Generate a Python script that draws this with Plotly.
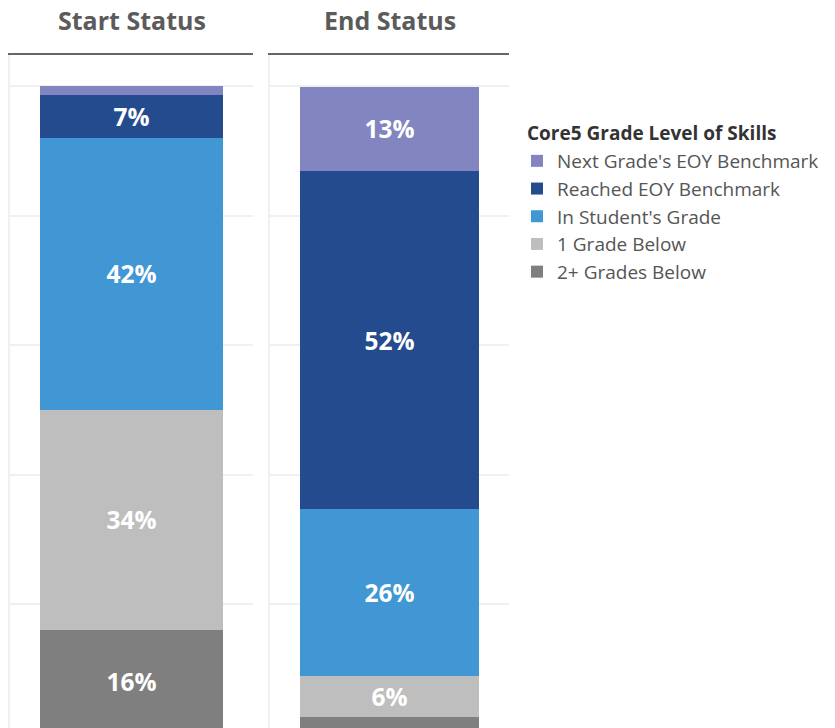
import plotly.graph_objects as go
from plotly.subplots import make_subplots

panels = ["Start Status", "End Status"]
categories = ["2+ Grades Below", "1 Grade Below", "In Student's Grade",
              "Reached EOY Benchmark", "Next Grade's EOY Benchmark"]
start_values = [16, 34, 42, 6.6, 1.4]
end_values = [2.5, 6.4, 25.7, 52.3, 13]
colors = ["#7f7f7f", "#bebebe", "#4196d4", "#234b8e", "#8385c0"]
legend_title = "Core5 Grade Level of Skills"

fig = make_subplots(rows=1, cols=2, horizontal_spacing=0.02)

for col, vals in enumerate([start_values, end_values], start=1):
    for cat, v, c in zip(categories, vals, colors):
        fig.add_trace(go.Bar(
            x=[panels[col - 1]], y=[v], name=cat, marker_color=c,
            marker_line_width=0, width=0.75,
            text=[f"<b>{round(v)}%</b>" if v >= 5 else ""],
            textposition="inside", insidetextanchor="middle", textangle=0,
            textfont=dict(family="Open Sans", size=24.5, color="white"),
            showlegend=(col == 1), hoverinfo="skip",
        ), row=1, col=col)

W, H = 835, 728
T = 55
PH = H - T
doms = [(10 / W, 253 / W), (270 / W, 509 / W)]
for i, (d0, d1) in enumerate(doms, start=1):
    fig.update_xaxes(domain=[d0, d1], showticklabels=False, ticks="",
                     showgrid=False, side="top", showline=True,
                     linecolor="#666666", linewidth=2, row=1, col=i)
    fig.update_yaxes(range=[0.85, 104.8], showticklabels=False, ticks="",
                     dtick=20, tick0=0, showgrid=True, gridcolor="#f0f0f0",
                     gridwidth=1.5, zeroline=False, showline=True,
                     linecolor="#f0f0f0", linewidth=2, row=1, col=i)
    fig.add_annotation(text=f"<b>{panels[i - 1]}</b>", x=(d0 + d1) / 2,
                       y=(H - 20) / PH, xref="paper", yref="paper",
                       xanchor="center", yanchor="middle", showarrow=False,
                       font=dict(family="Open Sans", size=25, color="#5b5b5b"))

fig.add_annotation(text=f"<b>{legend_title}</b>", x=525 / W, y=(H - 133) / PH,
                   xref="paper", yref="paper", xanchor="left", yanchor="middle",
                   showarrow=False,
                   font=dict(family="Open Sans", size=19, color="#333333"))

fig.update_layout(
    width=W, height=H, barmode="stack", bargap=0.25,
    margin=dict(l=0, r=0, t=T, b=0),
    plot_bgcolor="white", paper_bgcolor="white",
    font=dict(family="Open Sans", color="#555555"),
    legend=dict(
        traceorder="reversed", x=517 / W, xanchor="left",
        y=(H - 142) / PH, yanchor="top",
        font=dict(size=19, color="#555555"), itemclick=False,
        bgcolor="rgba(0,0,0,0)",
    ),
)

fig.write_html("out.html",
               config={"displayModeBar": False},
               post_script="document.body.style.margin='0';"
                           "document.body.style.overflow='hidden';")
